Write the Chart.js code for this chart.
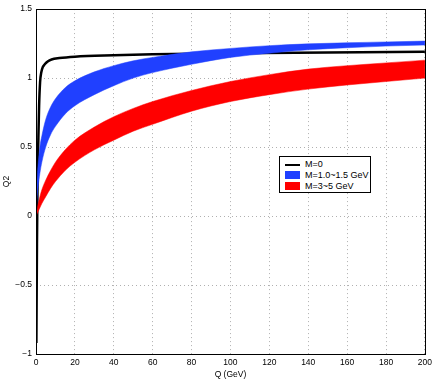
<!DOCTYPE html>
<html>
<head>
<meta charset="utf-8">
<script src="https://cdn.jsdelivr.net/npm/chart.js@4.4.1/dist/chart.umd.min.js"></script>
<style>
  html, body { margin: 0; padding: 0; background: #fff; }
  #wrap { position: relative; width: 436px; height: 382px; }
  #legend {
    position: absolute; left: 279px; top: 156px; width: 90px; height: 35px;
    border: 1px solid #000; background: #fff;
    font: 9px "Liberation Sans", Arial, sans-serif; color: #000;
  }
  .row { position: absolute; left: 5px; height: 11px; line-height: 11px; }
  .sw { position: absolute; left: 0; width: 15px; }
  .txt { position: absolute; left: 20px; white-space: nowrap; }
</style>
</head>
<body>
<div id="wrap">
  <canvas id="chart" width="436" height="382"></canvas>
  <div id="legend">
    <div class="row" style="top:2px"><div class="sw" style="top:5px;height:2px;background:#000"></div><span class="txt">M=0</span></div>
    <div class="row" style="top:13px"><div class="sw" style="top:1px;height:8px;background:#2040ff"></div><span class="txt">M=1.0~1.5 GeV</span></div>
    <div class="row" style="top:24px"><div class="sw" style="top:1px;height:8px;background:#ff0000"></div><span class="txt">M=3~5 GeV</span></div>
  </div>
</div>
<script>
// Q2 vs Q, massless curve plus two mass bands

// x ticks, y ticks
const xTicks = [0, 20, 40, 60, 80, 100, 120, 140, 160, 180, 200];
const yTicks = [-1, -0.5, 0, 0.5, 1, 1.5];

// M=0 line
const qBlack = [0.2, 0.5, 0.8, 1.2, 1.6, 2.1, 2.7, 3.5, 4.5, 6, 8, 12, 20, 40, 60, 100, 150, 200];
const yBlack = [-0.92, -0.2, 0.25, 0.55, 0.8, 0.97, 1.04, 1.08, 1.1, 1.12, 1.135, 1.145, 1.155, 1.165, 1.172, 1.18, 1.186, 1.19];

// band sample points
const qBand = [0, 0.5, 1, 2, 3, 5, 7.5, 10, 15, 20, 30, 40, 50, 60, 80, 100, 120, 140, 160, 180, 200];
// M=1.0~1.5 GeV band
const blueHigh = [0, 0.25, 0.36, 0.5, 0.58, 0.7, 0.79, 0.85, 0.93, 0.98, 1.045, 1.09, 1.125, 1.15, 1.19, 1.215, 1.235, 1.248, 1.256, 1.262, 1.268];
const blueLow  = [0, 0.12, 0.2, 0.31, 0.39, 0.5, 0.59, 0.65, 0.74, 0.8, 0.88, 0.945, 1.0, 1.04, 1.1, 1.15, 1.18, 1.205, 1.22, 1.232, 1.24];
// M=3~5 GeV band
const redHigh = [0, 0.04, 0.08, 0.14, 0.19, 0.26, 0.33, 0.39, 0.48, 0.55, 0.645, 0.72, 0.78, 0.83, 0.91, 0.975, 1.025, 1.065, 1.09, 1.11, 1.13];
const redLow  = [0, 0.015, 0.03, 0.06, 0.09, 0.14, 0.2, 0.25, 0.33, 0.39, 0.48, 0.55, 0.615, 0.665, 0.76, 0.83, 0.88, 0.92, 0.95, 0.975, 1.0];

const BLUE = '#2040ff';
const RED = '#ff0000';
const FONT = { family: '"Liberation Sans", Arial, sans-serif', size: 8.5 };

function pts(xs, ys) {
  return xs.map((x, i) => ({ x: x, y: ys[i] }));
}

function band(ys, color, fill) {
  return {
    data: pts(qBand, ys),
    borderColor: color,
    backgroundColor: color,
    borderWidth: 0.5,
    pointRadius: 0,
    cubicInterpolationMode: 'monotone',
    fill: fill
  };
}

// frame box round the plot area
const boxPlugin = {
  id: 'box',
  afterDraw(chart) {
    const a = chart.chartArea;
    const ctx = chart.ctx;
    ctx.save();
    ctx.strokeStyle = '#000';
    ctx.lineWidth = 1;
    ctx.strokeRect(Math.round(a.left) + 0.5, Math.round(a.top) + 0.5,
      Math.round(a.right - a.left), Math.round(a.bottom - a.top));
    ctx.restore();
  }
};

new Chart(document.getElementById('chart'), {
  type: 'line',
  data: {
    datasets: [
      band(redHigh, RED, '+1'),
      band(redLow, RED, false),
      band(blueHigh, BLUE, '+1'),
      band(blueLow, BLUE, false),
      {
        data: pts(qBlack, yBlack),
        borderColor: '#000',
        borderWidth: 2.5,
        pointRadius: 0,
        cubicInterpolationMode: 'monotone',
        fill: false
      }
    ]
  },
  options: {
    responsive: false,
    animation: false,
    layout: { padding: { top: 9, right: 11, left: 0, bottom: 0 } },
    plugins: { legend: { display: false }, tooltip: { enabled: false } },
    scales: {
      x: {
        type: 'linear', min: 0, max: 200,
        afterBuildTicks: s => { s.ticks = xTicks.map(v => ({ value: v })); },
        afterFit: s => { s.height = 28; },
        ticks: { font: FONT, color: '#000', padding: 4, maxRotation: 0 },
        grid: { color: '#b0b0b0', drawTicks: false, lineWidth: 1 },
        border: { display: false, dash: [1, 3] },
        title: { display: true, text: 'Q (GeV)', font: FONT, color: '#000', padding: { top: 0, bottom: 2 } }
      },
      y: {
        type: 'linear', min: -1, max: 1.5,
        afterBuildTicks: s => { s.ticks = yTicks.map(v => ({ value: v })); },
        afterFit: s => { s.width = 36; },
        ticks: {
          font: FONT, color: '#000', padding: 4,
          callback: v => String(v).replace('-', '\u2212')
        },
        grid: { color: '#b0b0b0', drawTicks: false, lineWidth: 1 },
        border: { display: false, dash: [1, 3] },
        title: { display: true, text: 'Q2', font: FONT, color: '#000', padding: { top: 2, bottom: 0 } }
      }
    }
  },
  plugins: [boxPlugin]
});
</script>
</body>
</html>
